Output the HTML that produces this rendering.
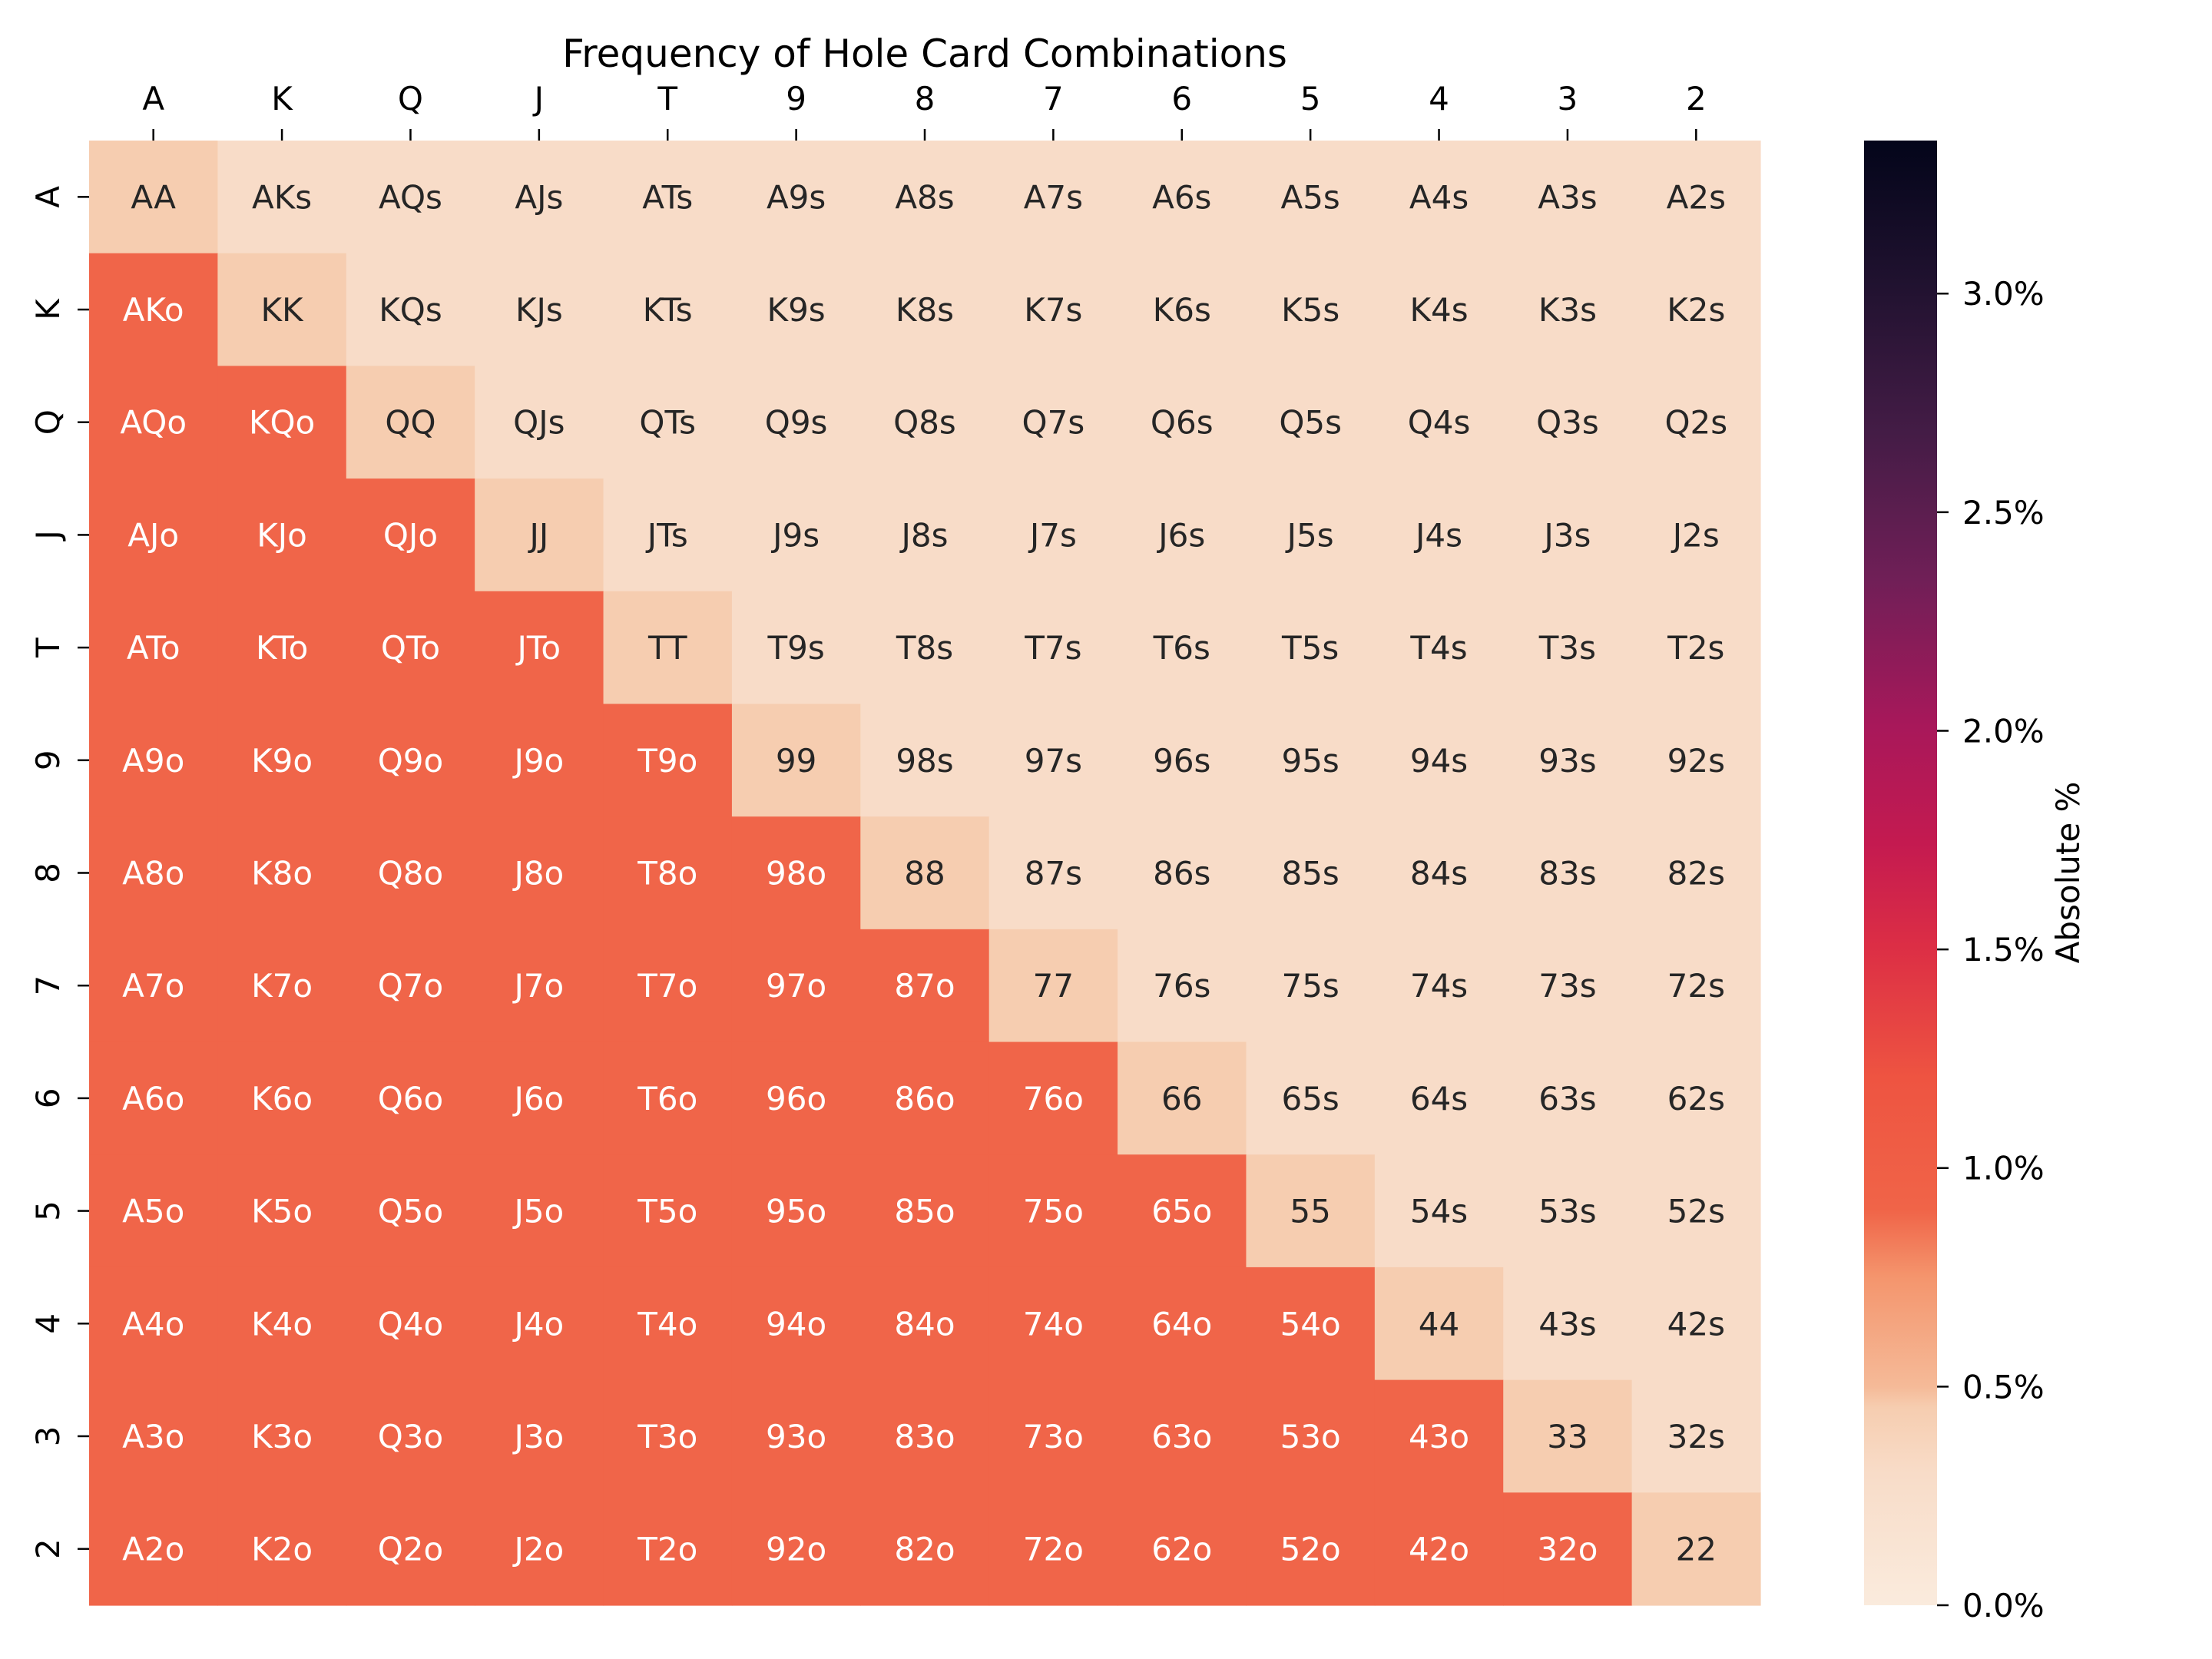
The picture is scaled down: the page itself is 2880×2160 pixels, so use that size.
<!DOCTYPE html>
<html><head><meta charset="utf-8"><style>
html,body{margin:0;padding:0;background:#fff;}
svg{display:block;font-family:"DejaVu Sans","Liberation Sans",sans-serif;}
</style></head><body>
<svg id="chart" width="2880" height="2160" viewBox="0 0 2880 2160" xmlns="http://www.w3.org/2000/svg">
<defs><linearGradient id="cbgrad" x1="0" y1="1" x2="0" y2="0"></linearGradient></defs>
<rect width="2880" height="2160" fill="#fff"/>
<text x="1204" y="87" font-size="50" text-anchor="middle" fill="#000">Frequency of Hole Card Combinations</text>
<g id="cells"></g>
<g id="xaxis"></g>
<g id="yaxis"></g>
<g id="cbar"></g>
<text x="0" y="0" font-size="42" text-anchor="middle" transform="translate(2707,1136) rotate(-90)" fill="#000">Absolute %</text>
</svg>
<script>
const ranks = ["A","K","Q","J","T","9","8","7","6","5","4","3","2"];
const row0 = [0.45,0.30,0.30,0.30,0.30,0.30,0.30,0.30,0.30,0.30,0.30,0.30,0.30];
const row1 = [0.90,0.45,0.30,0.30,0.30,0.30,0.30,0.30,0.30,0.30,0.30,0.30,0.30];
const row2 = [0.90,0.90,0.45,0.30,0.30,0.30,0.30,0.30,0.30,0.30,0.30,0.30,0.30];
const row3 = [0.90,0.90,0.90,0.45,0.30,0.30,0.30,0.30,0.30,0.30,0.30,0.30,0.30];
const row4 = [0.90,0.90,0.90,0.90,0.45,0.30,0.30,0.30,0.30,0.30,0.30,0.30,0.30];
const row5 = [0.90,0.90,0.90,0.90,0.90,0.45,0.30,0.30,0.30,0.30,0.30,0.30,0.30];
const row6 = [0.90,0.90,0.90,0.90,0.90,0.90,0.45,0.30,0.30,0.30,0.30,0.30,0.30];
const row7 = [0.90,0.90,0.90,0.90,0.90,0.90,0.90,0.45,0.30,0.30,0.30,0.30,0.30];
const row8 = [0.90,0.90,0.90,0.90,0.90,0.90,0.90,0.90,0.45,0.30,0.30,0.30,0.30];
const row9 = [0.90,0.90,0.90,0.90,0.90,0.90,0.90,0.90,0.90,0.45,0.30,0.30,0.30];
const row10 = [0.90,0.90,0.90,0.90,0.90,0.90,0.90,0.90,0.90,0.90,0.45,0.30,0.30];
const row11 = [0.90,0.90,0.90,0.90,0.90,0.90,0.90,0.90,0.90,0.90,0.90,0.45,0.30];
const row12 = [0.90,0.90,0.90,0.90,0.90,0.90,0.90,0.90,0.90,0.90,0.90,0.90,0.45];
const values = [row0,row1,row2,row3,row4,row5,row6,row7,row8,row9,row10,row11,row12];
const cbTicks = [0.0,0.5,1.0,1.5,2.0,2.5,3.0];
const vmax = 3.35;

const NS = "http://www.w3.org/2000/svg";
const L = 116, R = 2292, T = 183, B = 2090;
const cw = (R - L) / ranks.length, ch = (B - T) / ranks.length;
const CBL = 2427, CBR = 2522;
const stops = [[0,"#faebdd"],[0.09,"#f8dcc8"],[0.135,"#f6cdb0"],[0.149,"#f5ba98"],[0.224,"#f4956d"],[0.27,"#f06448"],[0.36,"#ee5441"],[0.45,"#dc2e45"],[0.52,"#c41a50"],[0.6,"#a8185a"],[0.7,"#701f57"],[0.8,"#441c46"],[0.9,"#211230"],[1,"#03051a"]];
function hex2rgb(h){return [1,3,5].map(i=>parseInt(h.substr(i,2),16));}
function cmap(v){
  const t = Math.max(0, Math.min(1, v / vmax));
  for (let i = 1; i < stops.length; i++) {
    if (t <= stops[i][0]) {
      const a = stops[i-1], b = stops[i], f = (t - a[0]) / (b[0] - a[0]);
      const ca = hex2rgb(a[1]), cb = hex2rgb(b[1]);
      return "rgb(" + ca.map((c,k)=>Math.round(c + (cb[k]-c)*f)).join(",") + ")";
    }
  }
  return stops[stops.length-1][1];
}
function xPos(j){return L + j * cw;}
function yPos(i){return T + i * ch;}
function cbY(v){return B - (v / vmax) * (B - T);}
function mk(tag, attrs, parent){const e=document.createElementNS(NS,tag);for(const k in attrs)e.setAttribute(k,attrs[k]);parent.appendChild(e);return e;}

const cells = document.getElementById("cells");
for (let i = 0; i < ranks.length; i++) {
  for (let j = 0; j < ranks.length; j++) {
    const v = values[i][j];
    const r = mk("rect",{x:xPos(j),y:yPos(i),width:cw+0.6,height:ch+0.6,fill:cmap(v)},cells);
    
    
    let label;
    if (i === j) label = ranks[i] + ranks[j];
    else if (j > i) label = ranks[i] + ranks[j] + "s";
    else label = ranks[j] + ranks[i] + "o";
    const t = mk("text",{x:xPos(j)+cw/2,y:yPos(i)+ch/2+15,"font-size":42,"text-anchor":"middle",fill:(v/vmax>0.2?"#ffffff":"#262626")},cells);
    t.textContent = label;
    
    
  }
}
const xa = document.getElementById("xaxis"), ya = document.getElementById("yaxis");
ranks.forEach((rk, k) => {
  const cx = xPos(k) + cw/2;
  const tm = mk("line",{x1:cx,x2:cx,y1:T-15,y2:T,stroke:"#000","stroke-width":2.5},xa);
  
  
  const tl = mk("text",{x:cx,y:143,"font-size":42,"text-anchor":"middle",fill:"#000"},xa);
  tl.textContent = rk;
  
  
  const cy = yPos(k) + ch/2;
  const ym = mk("line",{x1:L-15,x2:L,y1:cy,y2:cy,stroke:"#000","stroke-width":2.5},ya);
  
  
  const yl = mk("text",{x:0,y:0,"font-size":42,"text-anchor":"middle",transform:"translate(77,"+cy+") rotate(-90)",fill:"#000"},ya);
  yl.textContent = rk;
  
  
});
const grad = document.getElementById("cbgrad");
stops.forEach(s => { mk("stop",{offset:s[0],"stop-color":s[1]},grad); });
const cb = document.getElementById("cbar");
const cr = mk("rect",{x:CBL,y:T,width:CBR-CBL,height:B-T,fill:"url(#cbgrad)"},cb);


cbTicks.forEach(v => {
  const y = cbY(v);
  const m = mk("line",{x1:CBR,x2:CBR+15,y1:y,y2:y,stroke:"#000","stroke-width":2.5},cb);
  
  
  const t = mk("text",{x:2555,y:y+15,"font-size":42,fill:"#000"},cb);
  t.textContent = v.toFixed(1) + "%";
  
  
});
</script>
</body></html>
